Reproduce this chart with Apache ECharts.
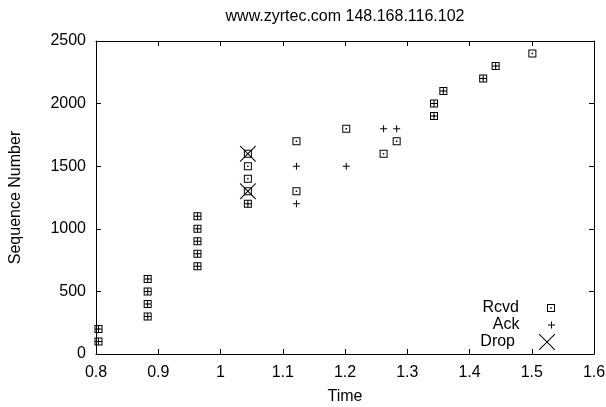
<!DOCTYPE html>
<html>
<head>
<meta charset="utf-8">
<script src="https://cdn.jsdelivr.net/npm/echarts@6/dist/echarts.min.js"></script>
<style>
html, body { margin: 0; padding: 0; background: #fff; }
#chart { width: 606px; height: 407px; }
</style>
</head>
<body>
<div id="chart"></div>
<script>
// [time, sequence number]
const rcvd = [
    [0.804, 100], [0.804, 200],
    [0.883, 300], [0.883, 400], [0.883, 500], [0.883, 600],
    [0.963, 700], [0.963, 800], [0.963, 900], [0.963, 1000], [0.963, 1100],
    [1.044, 1200], [1.044, 1300], [1.044, 1400], [1.044, 1500], [1.044, 1600],
    [1.122, 1300], [1.122, 1700],
    [1.202, 1800],
    [1.262, 1600],
    [1.283, 1700],
    [1.343, 1900], [1.343, 2000],
    [1.358, 2100],
    [1.422, 2200],
    [1.442, 2300],
    [1.501, 2400]
];
const ack = [
    [0.804, 100], [0.804, 200],
    [0.883, 300], [0.883, 400], [0.883, 500], [0.883, 600],
    [0.963, 700], [0.963, 800], [0.963, 900], [0.963, 1000], [0.963, 1100],
    [1.044, 1200],
    [1.122, 1200], [1.122, 1500],
    [1.202, 1500],
    [1.262, 1800],
    [1.283, 1800],
    [1.343, 1900], [1.343, 2000],
    [1.358, 2100],
    [1.422, 2200],
    [1.442, 2300]
];
const drop = [[1.044, 1300], [1.044, 1600]];

const xTicks = { min: 0.8, max: 1.6, interval: 0.1 };
const yTicks = { min: 0, max: 2500, interval: 500 };

// box with a dot, plus, cross
const boxIcon = 'path://M0,0H8V8H0Z M1,1V7H7V1Z M3.25,3.25H4.75V4.75H3.25Z';
const plusIcon = 'path://M3,0H4V7H3Z M0,3H7V4H0Z';
const crossIcon = 'path://M0,0L0.7,0L16,15.3L16,16L15.3,16L0,0.7Z M16,0L16,0.7L0.7,16L0,16L0,15.3L15.3,0Z';

const font = 'Liberation Sans, Arial, Helvetica, sans-serif';
const black = '#000';

function axisBase(show) {
    return {
        axisLine: { show: true, onZero: false, lineStyle: { color: black, width: 1 } },
        axisTick: { show: true, inside: true, length: 5, lineStyle: { color: black } },
        axisLabel: { show: show, color: black, fontSize: 16, fontFamily: font },
        splitLine: { show: false }
    };
}

function legendFor(name, icon, h, top) {
    return {
        data: [{ name: name, icon: icon }],
        right: 51,
        top: top,
        align: 'right',
        padding: 0,
        itemWidth: 54,
        itemHeight: h,
        selectedMode: false,
        textStyle: { color: black, fontSize: 16, fontFamily: font, lineHeight: 16 }
    };
}

const chart = echarts.init(document.getElementById('chart'));
chart.setOption({
    animation: false,
    backgroundColor: '#fff',
    title: {
        text: 'www.zyrtec.com 148.168.116.102',
        left: 345,
        textAlign: 'center',
        top: 9,
        padding: 0,
        textStyle: { color: black, fontSize: 16, fontWeight: 'normal', fontFamily: font }
    },
    grid: { left: 96, right: 12, top: 41, bottom: 53, containLabel: false, outerBoundsMode: 'none' },
    legend: [
        legendFor('Rcvd', boxIcon, 8, 300),
        legendFor('Ack', plusIcon, 7, 317),
        legendFor('Drop', crossIcon, 16, 334)
    ],
    xAxis: [
        Object.assign(axisBase(true), xTicks, {
            type: 'value', position: 'bottom',
            name: 'Time', nameLocation: 'middle', nameGap: 35,
            nameTextStyle: { color: black, fontSize: 16, fontFamily: font },
            axisLabel: { color: black, fontSize: 16, fontFamily: font, margin: 11 }
        }),
        Object.assign(axisBase(false), xTicks, { type: 'value', position: 'top' })
    ],
    yAxis: [
        Object.assign(axisBase(true), yTicks, {
            type: 'value', position: 'left',
            name: 'Sequence Number', nameLocation: 'middle', nameGap: 72,
            nameTextStyle: { color: black, fontSize: 16, fontFamily: font },
            axisLabel: {
                color: black, fontSize: 16, fontFamily: font, margin: 10,
                formatter: function (v) { return String(v); }
            }
        }),
        Object.assign(axisBase(false), yTicks, { type: 'value', position: 'right' })
    ],
    series: [
        {
            name: 'Rcvd', type: 'scatter', data: rcvd,
            symbol: boxIcon, symbolSize: 8,
            itemStyle: { color: black, opacity: 1 },
            emphasis: { disabled: true }
        },
        {
            name: 'Ack', type: 'scatter', data: ack,
            symbol: plusIcon, symbolSize: 7,
            itemStyle: { color: black, opacity: 1 },
            emphasis: { disabled: true }
        },
        {
            name: 'Drop', type: 'scatter', data: drop,
            symbol: crossIcon, symbolSize: 16,
            itemStyle: { color: black, opacity: 1 },
            emphasis: { disabled: true }
        }
    ]
});
</script>
</body>
</html>
